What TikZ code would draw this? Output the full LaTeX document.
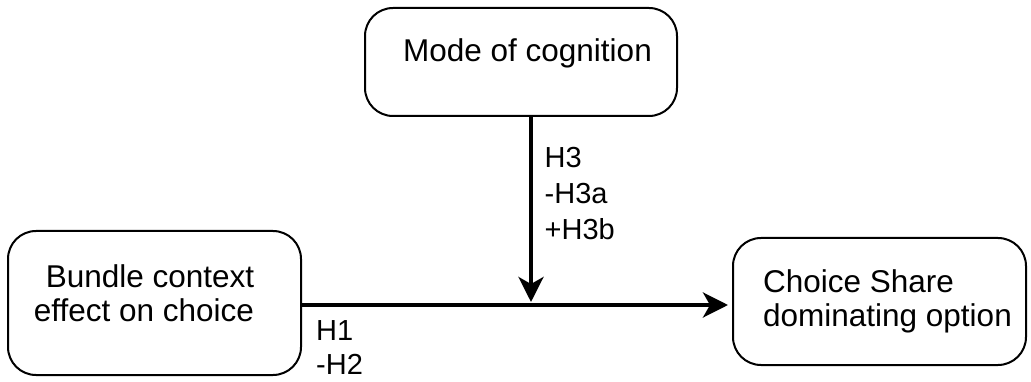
\documentclass[tikz,border=0pt]{standalone}
\usepackage{fontspec}
\setmainfont{Liberation Sans}
\usetikzlibrary{arrows.meta}
\newcommand{\gapw}[1]{\rule{#1}{0pt}}
\newcommand{\deep}[1]{\rule[-#1]{0pt}{0pt}}
\begin{document}
\begin{tikzpicture}[x=1pt,y=-1pt,
  box/.style={draw,line width=2pt,rounded corners=28pt,inner sep=0pt,
    font=\fontsize{31.5}{34}\selectfont},
  conn/.style={line width=4pt,-{Stealth[length=25pt,width=25pt,inset=7pt]}},
  lbl/.style={inner sep=0pt,align=left,anchor=north west,
    font=\fontsize{29}{36}\selectfont}]
\useasboundingbox (0,0) rectangle (1031,382);
% boxes
\node[box,minimum width=312pt,minimum height=108pt] (T) at (521,62)
  {\gapw{13pt}Mode of cognition\deep{24.6pt}};
\node[box,minimum width=293pt,minimum height=144pt,align=center] (L) at (154.5,303)
  {Bundle context\gapw{9pt}\\effect on choice\gapw{21pt}\deep{20.6pt}};
\node[box,minimum width=293pt,minimum height=127pt,align=left] (R) at (879.5,301.5)
  {\gapw{16pt}Choice Share\\\gapw{16pt}dominating option\deep{7.6pt}};
% connectors
\coordinate (hy) at (0,305);
\coordinate (vx) at (531,0);
\coordinate (tipV) at (531,302);
\draw[conn,shorten >=4pt] (L.east |- hy) -- (R.west |- hy);
\draw[conn] (T.south -| vx) -- (tipV);
% labels
\node[lbl] (h3) at (544.5,147) {H3\\-H3a\\+H3b};
\node[lbl,font=\fontsize{29}{34}\selectfont] (h1) at (316,320) {H1\\-H2};
\end{tikzpicture}
\end{document}
